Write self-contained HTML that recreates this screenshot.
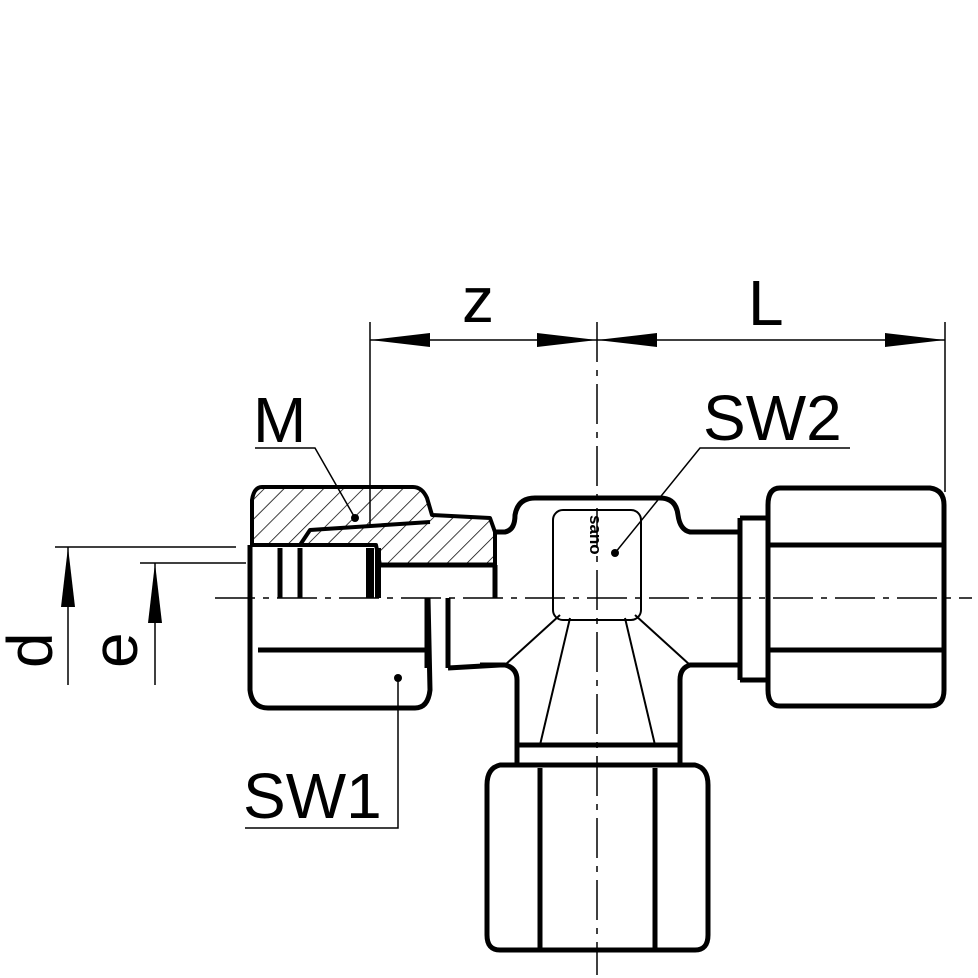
<!DOCTYPE html>
<html><head><style>body{margin:0;background:#fff}svg{display:block}</style></head><body>
<svg width="978" height="978" viewBox="0 0 978 978" xmlns="http://www.w3.org/2000/svg" font-family="Liberation Sans, sans-serif">
<defs>
<pattern id="h" width="14" height="14" patternUnits="userSpaceOnUse" patternTransform="rotate(45)">
<line x1="0" y1="0" x2="0" y2="14" stroke="#000" stroke-width="1.5"/></pattern>
<marker id="a" viewBox="0 0 60 14" refX="60" refY="7" markerWidth="60" markerHeight="14" markerUnits="userSpaceOnUse" orient="auto-start-reverse"><path d="M0,0 L60,7 L0,14z" fill="#000"/></marker>
</defs>
<g stroke="#000" fill="none">
<line x1="370" y1="322" x2="370" y2="525" stroke-width="1.5"/>
<line x1="945" y1="322" x2="945" y2="492" stroke-width="1.5"/>
<line x1="370" y1="340" x2="597" y2="340" stroke-width="1.5" marker-start="url(#a)" marker-end="url(#a)"/>
<line x1="597" y1="340" x2="945" y2="340" stroke-width="1.5" marker-start="url(#a)" marker-end="url(#a)"/>
<line x1="597" y1="322" x2="597" y2="975" stroke-width="1.5" stroke-dasharray="40,8,6,8"/>
<line x1="215" y1="598" x2="972" y2="598" stroke-width="1.5" stroke-dasharray="40,8,6,8"/>
<line x1="55" y1="547" x2="236" y2="547" stroke-width="1.5"/>
<line x1="140" y1="563" x2="246" y2="563" stroke-width="1.5"/>
<line x1="68" y1="685" x2="68" y2="547" stroke-width="1.5" marker-end="url(#a)"/>
<line x1="155" y1="685" x2="155" y2="563" stroke-width="1.5" marker-end="url(#a)"/>
<polyline points="255,448 315,448 355,518" stroke-width="1.5"/>
<polyline points="850,448 700,448 615,553" stroke-width="1.5"/>
<polyline points="245,828 398,828 398,678" stroke-width="1.5"/>
</g>
<circle cx="355" cy="518" r="4"/><circle cx="615" cy="553" r="4"/><circle cx="398" cy="678" r="4"/>
<g stroke="#000" stroke-width="5" fill="none" stroke-linejoin="round">
<path d="M262,487 L413,487 Q422,487 427,498 L432,515 L490,518 L495,532 L495,565 L380,565 L376,545 L252,545 L252,500 Q254,487 262,487z" fill="url(#h)" stroke-width="4"/>
<path d="M300,545 L310,530 L430,522" stroke-width="4"/>
<path d="M250,598 L250,690 Q252,708 268,708 L415,708 Q428,708 430,690 L428,598"/>
<line x1="258" y1="650" x2="425" y2="650"/>
<line x1="250" y1="545" x2="250" y2="598"/>
<line x1="280" y1="548" x2="280" y2="598"/><line x1="300" y1="548" x2="300" y2="598"/>
<line x1="370" y1="548" x2="370" y2="598" stroke-width="8"/><line x1="378" y1="548" x2="378" y2="598" stroke-width="6"/>
<line x1="495" y1="565" x2="495" y2="598"/>
<line x1="380" y1="565" x2="495" y2="565"/>
<line x1="427" y1="598" x2="427" y2="668"/><line x1="448" y1="598" x2="448" y2="668"/>
<line x1="448" y1="668" x2="500" y2="665"/>
<path d="M495,532 L505,532 Q515,530 515,515 Q518,498 535,498 L660,498 Q676,498 678,515 Q680,530 690,532 L740,532 L740,665 L690,665 Q680,668 680,680 L680,745 L517,745 L517,680 Q517,668 505,665 L480,665"/>
<line x1="740" y1="518" x2="768" y2="518"/><line x1="740" y1="680" x2="768" y2="680"/>
<line x1="740" y1="518" x2="740" y2="680"/>
<line x1="505" y1="665" x2="560" y2="615" stroke-width="2"/><line x1="690" y1="665" x2="635" y2="615" stroke-width="2"/>
<line x1="540" y1="745" x2="570" y2="618" stroke-width="2"/><line x1="655" y1="745" x2="625" y2="618" stroke-width="2"/>
<rect x="553" y="510" width="88" height="110" rx="10" stroke-width="2"/>
<path d="M780,488 L930,488 Q944,490 944,505 L944,690 Q944,706 930,706 L780,706 Q768,706 768,690 L768,505 Q768,488 780,488z"/>
<line x1="770" y1="545" x2="942" y2="545"/><line x1="770" y1="650" x2="942" y2="650"/>
<rect x="517" y="745" width="163" height="20"/>
<path d="M500,765 L695,765 Q708,768 708,785 L708,935 Q708,950 695,950 L500,950 Q487,950 487,935 L487,785 Q487,768 500,765z"/>
<line x1="540" y1="768" x2="540" y2="948"/><line x1="655" y1="768" x2="655" y2="948"/>
</g>
<text font-size="17" font-weight="bold" transform="translate(590,515) rotate(90)">sano</text>
<g font-size="64" fill="#000">
<text x="462" y="322">z</text>
<text x="748" y="325">L</text>
<text x="253" y="442">M</text>
<text x="703" y="440">SW2</text>
<text x="243" y="818">SW1</text>
<text transform="translate(52,668) rotate(-90)">d</text>
<text transform="translate(137,668) rotate(-90)">e</text>
</g>
</svg>
</body></html>
